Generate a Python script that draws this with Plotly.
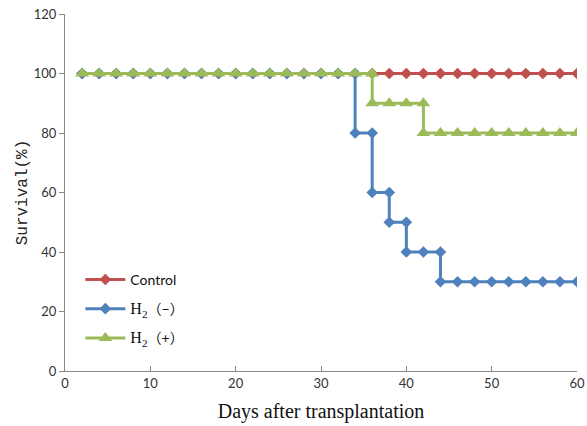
import plotly.graph_objects as go

days_control = list(range(2, 62, 2))
surv_control = [100] * len(days_control)

days_h2_minus = [2, 4, 6, 8, 10, 12, 14, 16, 18, 20, 22, 24, 26, 28, 30, 32, 34, 34, 36, 36, 38, 38, 40, 40, 42, 44, 44, 46, 48, 50, 52, 54, 56, 58, 60]
surv_h2_minus = [100, 100, 100, 100, 100, 100, 100, 100, 100, 100, 100, 100, 100, 100, 100, 100, 100, 80, 80, 60, 60, 50, 50, 40, 40, 40, 30, 30, 30, 30, 30, 30, 30, 30, 30]

days_h2_plus = [2, 4, 6, 8, 10, 12, 14, 16, 18, 20, 22, 24, 26, 28, 30, 32, 34, 36, 36, 38, 40, 42, 42, 44, 46, 48, 50, 52, 54, 56, 58, 60]
surv_h2_plus = [100, 100, 100, 100, 100, 100, 100, 100, 100, 100, 100, 100, 100, 100, 100, 100, 100, 100, 90, 90, 90, 90, 80, 80, 80, 80, 80, 80, 80, 80, 80, 80]

x_ticks = [0, 10, 20, 30, 40, 50, 60]
y_ticks = [0, 20, 40, 60, 80, 100, 120]

fig = go.Figure()
fig.add_trace(go.Scatter(
    x=days_control, y=surv_control, mode="lines+markers", name="Control",
    legendgroup="a",
    line=dict(color="#C0504D", width=3),
    marker=dict(symbol="diamond", size=9, color="#C0504D"),
))
fig.add_trace(go.Scatter(
    x=days_h2_minus, y=surv_h2_minus, mode="lines+markers",
    name="<span style='font-family:Liberation Serif;font-size:16px'>H<sub>2</sub></span>（−）",
    legendgroup="b",
    line=dict(color="#4F81BD", width=3),
    marker=dict(symbol="diamond", size=9, color="#4F81BD"),
))
fig.add_trace(go.Scatter(
    x=days_h2_plus, y=surv_h2_plus, mode="lines+markers",
    name="<span style='font-family:Liberation Serif;font-size:16px'>H<sub>2</sub></span>（+）",
    legendgroup="c",
    line=dict(color="#9BBB59", width=3),
    marker=dict(symbol="triangle-up", size=12, color="#9BBB59"),
))

fig.update_layout(
    width=587, height=426,
    margin=dict(l=65, r=10, t=14, b=55, autoexpand=False),
    paper_bgcolor="white", plot_bgcolor="white",
    font=dict(family="Lato, Liberation Sans, sans-serif", size=13, color="#222"),
    showlegend=True,
    legend=dict(
        x=0.03, y=0.30, xanchor="left", yanchor="top",
        bgcolor="rgba(0,0,0,0)",
        font=dict(size=14, family="Lato, Noto Sans CJK SC, sans-serif", color="#111"),
        traceorder="grouped", tracegroupgap=8, itemwidth=40,
    ),
    xaxis=dict(
        range=[0, 60], tickvals=x_ticks, ticks="inside", ticklen=5, tickcolor="#888",
        showline=True, linecolor="#888", linewidth=1, showgrid=False, zeroline=False,
        automargin=False, ticklabeloverflow="allow",
        title=dict(text="Days after transplantation", standoff=14,
                   font=dict(family="Liberation Serif, DejaVu Serif, serif", size=20, color="#111")),
        tickfont=dict(size=13, color="#333"),
    ),
    yaxis=dict(
        range=[0, 120], tickvals=y_ticks, ticks="outside", ticklen=5, tickcolor="#888",
        showline=True, linecolor="#888", linewidth=1, showgrid=False, zeroline=False,
        automargin=False, ticklabeloverflow="allow",
        title=dict(text="Survival(%)", standoff=2,
                   font=dict(family="Liberation Mono, DejaVu Sans Mono, monospace", size=16, color="#222")),
        tickfont=dict(size=13, color="#333"),
    ),
)

fig.write_html(
    "out.html",
    config={"displayModeBar": False},
    post_script="document.body.style.margin='0px';document.body.style.overflow='hidden';",
)
